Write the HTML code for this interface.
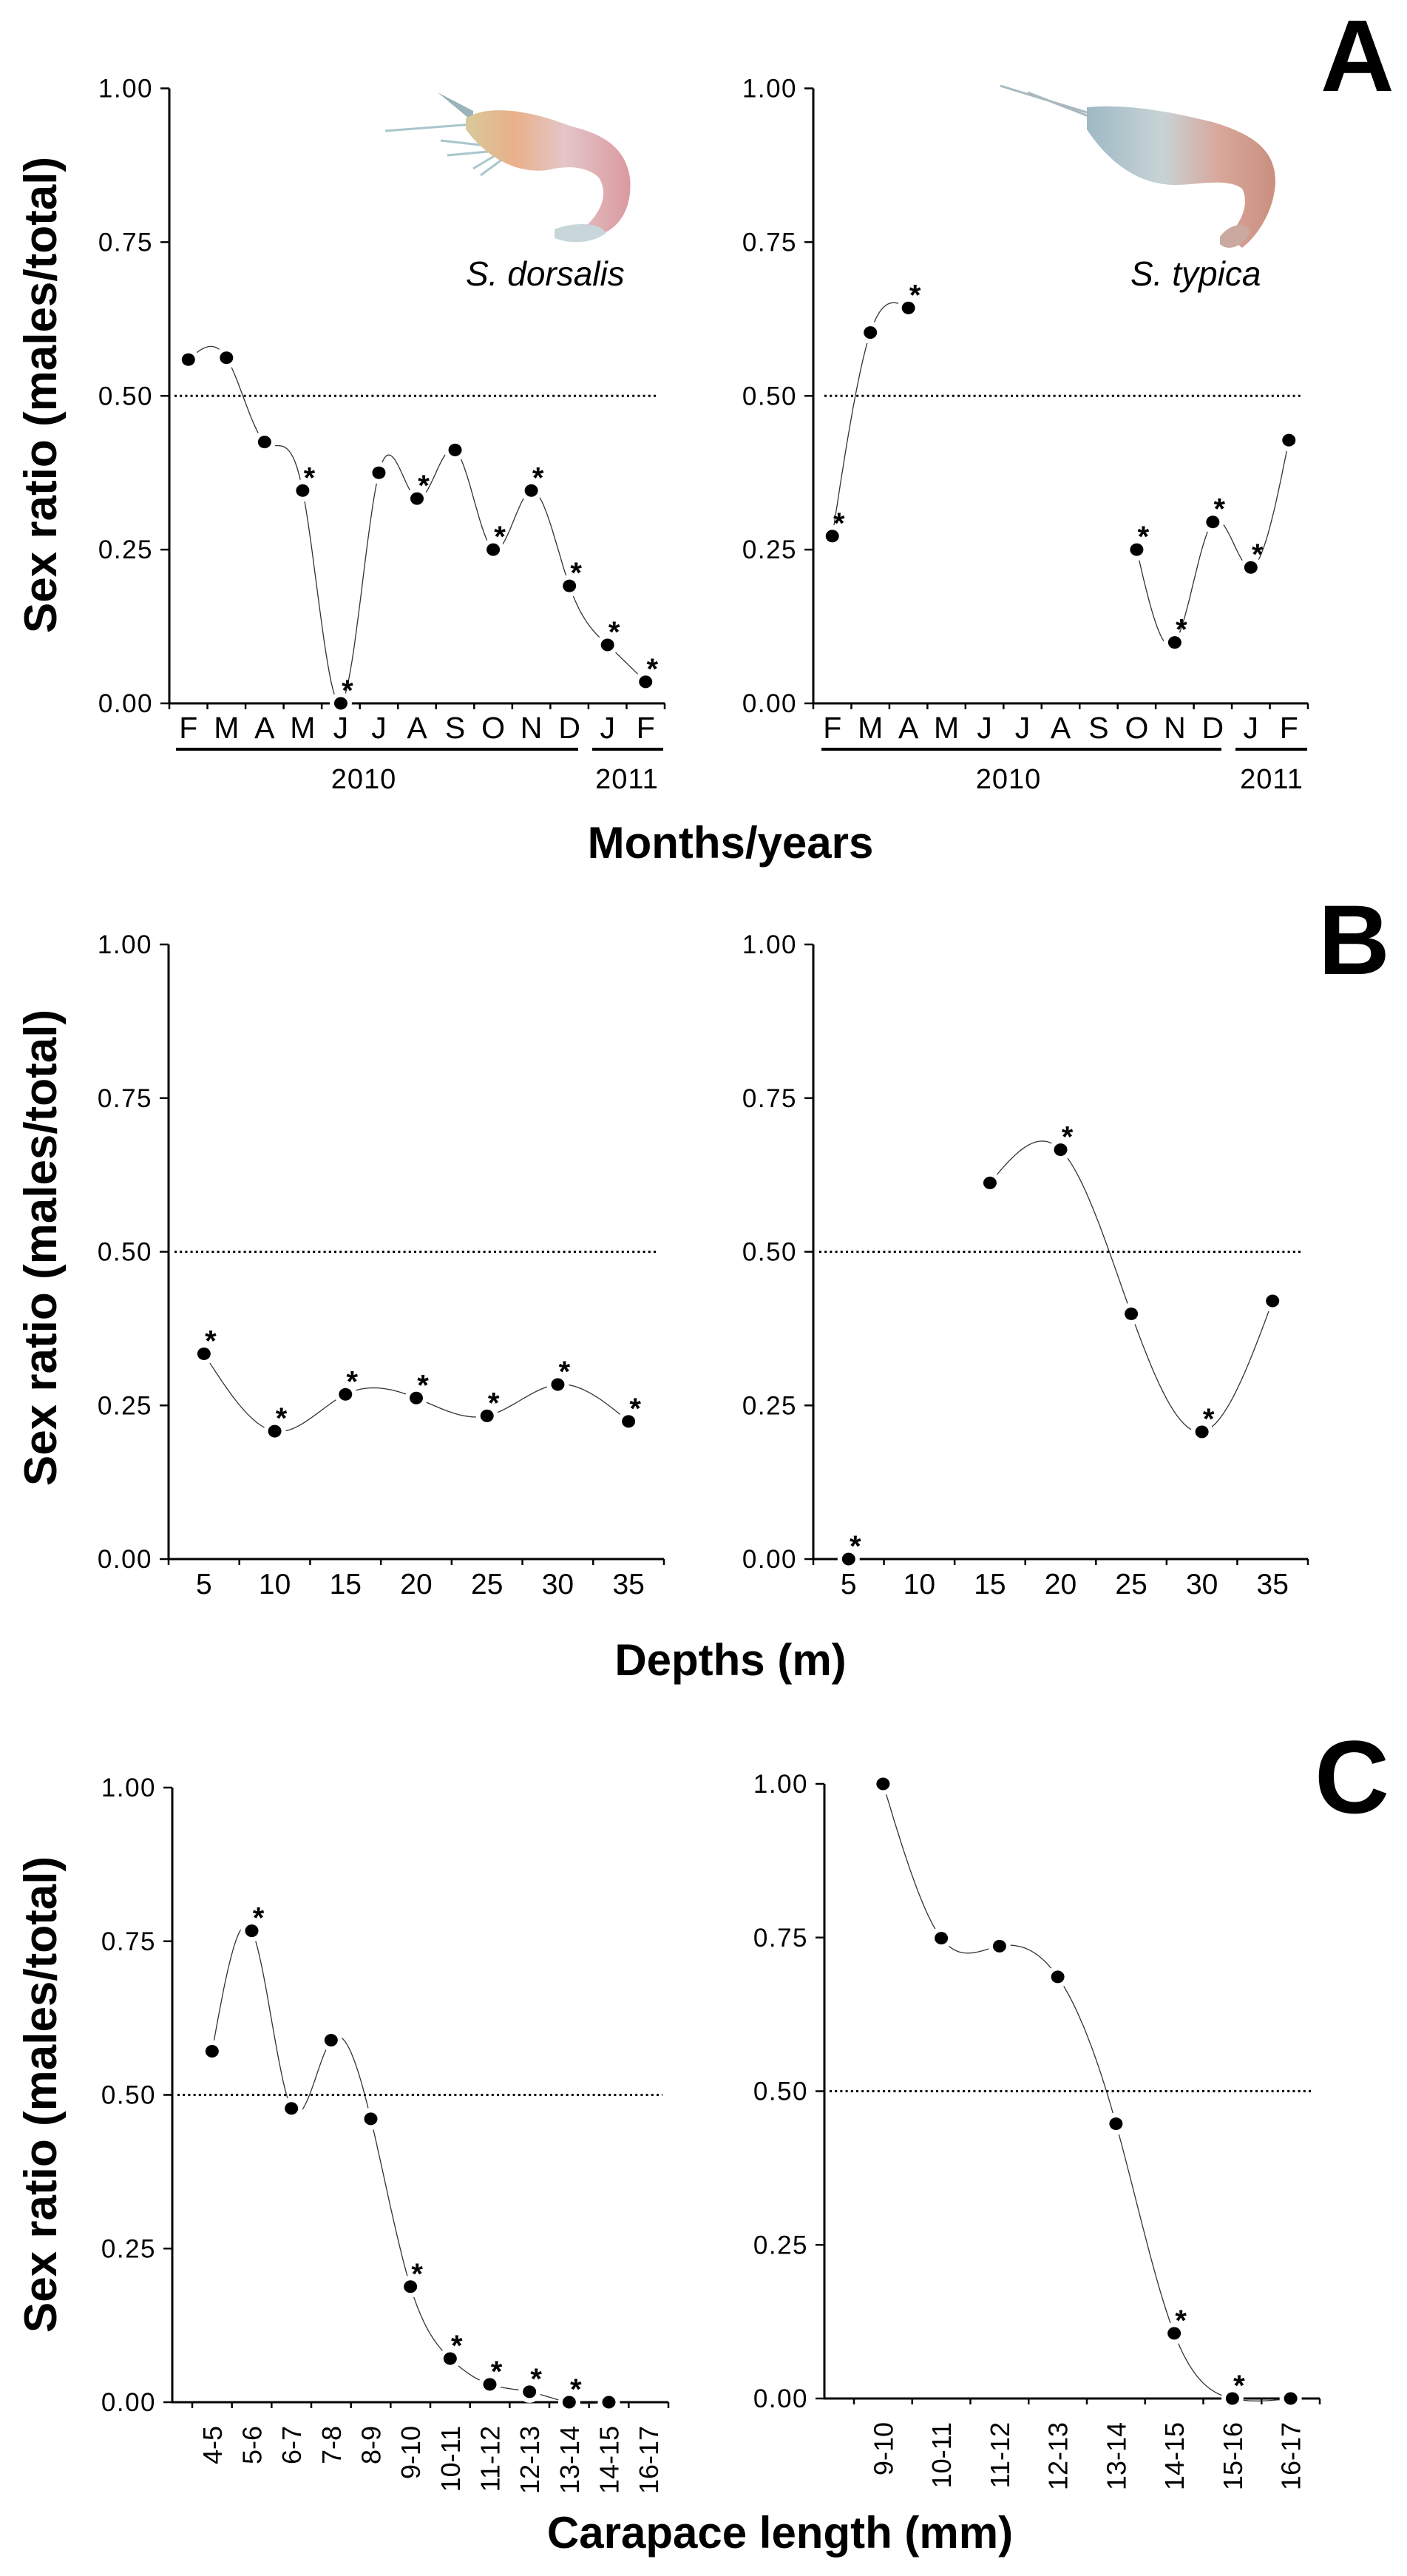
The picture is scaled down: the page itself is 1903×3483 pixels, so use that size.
<!DOCTYPE html>
<html><head><meta charset="utf-8">
<style>
html,body{margin:0;padding:0;background:#fff;}
svg{display:block;}
text{font-family:"Liberation Sans",Arial,sans-serif;fill:#000;}
</style></head>
<body>
<svg id="fig" width="1903" height="3483" viewBox="0 0 1903 3483" xmlns="http://www.w3.org/2000/svg">
<defs>
<linearGradient id="bodyA" x1="0" y1="0" x2="1" y2="0">
<stop offset="0" stop-color="#d8c99a"/><stop offset="0.3" stop-color="#e9b08a"/><stop offset="0.6" stop-color="#e4c6c8"/><stop offset="1" stop-color="#d99aa0"/></linearGradient>
<linearGradient id="bodyB" x1="0" y1="0" x2="1" y2="0">
<stop offset="0" stop-color="#9fb9c4"/><stop offset="0.4" stop-color="#c7d3d6"/><stop offset="0.7" stop-color="#d9a79b"/><stop offset="1" stop-color="#c98f80"/></linearGradient>
</defs>
<g id="shrimp-left">
<path d="M521,177 L640,168" stroke="#a9c6cc" stroke-width="3" fill="none"/>
<path d="M596,190 L650,196 M605,210 L660,205 M640,228 L670,210 M650,237 L680,215" stroke="#a9c6cc" stroke-width="3" fill="none"/>
<path d="M592,125 L640,150 L640,165 Z" fill="#9ab3bb"/>
<path d="M630,160 C660,140 720,150 770,170 C810,180 845,195 852,240 C856,285 835,310 810,318 L790,308 C810,290 825,265 810,240 C790,222 760,225 740,230 C700,235 660,215 630,175 Z" fill="url(#bodyA)"/>
<path d="M750,310 C775,300 810,300 820,315 C800,330 770,330 750,322 Z" fill="#c8d6da"/>
</g>
<g id="shrimp-right">
<path d="M1353,116 L1470,152 M1390,125 L1480,160" stroke="#a9b8bf" stroke-width="3" fill="none"/>
<path d="M1470,145 C1520,140 1580,150 1640,165 C1690,180 1725,200 1725,245 C1724,285 1700,320 1680,335 L1660,320 C1680,300 1690,275 1680,255 C1660,240 1620,250 1590,250 C1540,250 1500,220 1470,175 Z" fill="url(#bodyB)"/>
<path d="M1650,320 C1665,300 1690,300 1690,315 C1680,335 1660,340 1650,330 Z" fill="#c9a9a0"/>
</g>
<text x="630" y="386" font-size="46" font-style="italic">S. dorsalis</text>
<text x="1529" y="386" font-size="46" font-style="italic">S. typica</text>
<text x="1786" y="123" font-size="138" font-weight="bold">A</text>
<text x="1783" y="1317" font-size="134" font-weight="bold">B</text>
<text x="1778" y="2451" font-size="140" font-weight="bold">C</text>
<text x="988" y="1160" font-size="60" font-weight="bold" text-anchor="middle">Months/years</text>
<text x="988" y="2265" font-size="60" font-weight="bold" text-anchor="middle">Depths (m)</text>
<text x="1055" y="3445" font-size="60" font-weight="bold" text-anchor="middle">Carapace length (mm)</text>
<text transform="translate(76,534) rotate(-90)" font-size="62" font-weight="bold" text-anchor="middle">Sex ratio (males/total)</text>
<text transform="translate(76,1687) rotate(-90)" font-size="62" font-weight="bold" text-anchor="middle">Sex ratio (males/total)</text>
<text transform="translate(76,2832) rotate(-90)" font-size="62" font-weight="bold" text-anchor="middle">Sex ratio (males/total)</text>
<g>
<rect x="238" y="1011" width="544" height="4" fill="#000"/>
<rect x="801" y="1011" width="96" height="4" fill="#000"/>
<rect x="1111" y="1011" width="541" height="4" fill="#000"/>
<rect x="1671" y="1011" width="97" height="4" fill="#000"/>
<text x="492" y="1066" font-size="38" text-anchor="middle" letter-spacing="1">2010</text>
<text x="848" y="1066" font-size="38" text-anchor="middle" letter-spacing="1">2011</text>
<text x="1364" y="1066" font-size="38" text-anchor="middle" letter-spacing="1">2010</text>
<text x="1720" y="1066" font-size="38" text-anchor="middle" letter-spacing="1">2011</text>
</g>
</svg>
<script>
const monthCats = ["F","M","A","M","J","J","A","S","O","N","D","J","F"];
const dorsalisMonthVals = [0.559,0.562,0.425,0.346,0.0,0.375,0.333,0.412,0.250,0.346,0.191,0.095,0.035];
const dorsalisMonthStars = [0,0,0,1,1,0,1,0,1,1,1,1,1];
const typicaMonthVals = [0.272,0.603,0.643,null,null,null,null,null,0.250,0.099,0.295,0.221,0.428];
const typicaMonthStars = [1,0,1,0,0,0,0,0,1,1,1,1,0];
const depthCats = ["5","10","15","20","25","30","35"];
const dorsalisDepthVals = [0.334,0.208,0.268,0.262,0.233,0.284,0.224];
const dorsalisDepthStars = [1,1,1,1,1,1,1];
const typicaDepthVals = [0.0,null,0.612,0.666,0.399,0.207,0.420];
const typicaDepthStars = [1,0,0,1,0,1,0];
const dorsalisSizeCats = ["4-5","5-6","6-7","7-8","8-9","9-10","10-11","11-12","12-13","13-14","14-15","16-17"];
const dorsalisSizeVals = [0.571,0.767,0.478,0.589,0.461,0.188,0.071,0.029,0.017,0.0,0.0,null];
const dorsalisSizeStars = [0,1,0,0,0,1,1,1,1,1,0,0];
const typicaSizeCats = ["9-10","10-11","11-12","12-13","13-14","14-15","15-16","16-17"];
const typicaSizeVals = [1.0,0.749,0.736,0.686,0.447,0.106,0.0,0.0];
const typicaSizeStars = [0,0,0,0,0,1,1,0];
const yTicks = [0,0.25,0.5,0.75,1.0];
const yTickLabels = ["0.00","0.25","0.50","0.75","1.00"];

const NS = "http://www.w3.org/2000/svg";
const svg = document.getElementById('fig');
function mk(tag, attrs, parent){
  const e = document.createElementNS(NS, tag);
  for (const k in attrs) e.setAttribute(k, attrs[k]);
  (parent||svg).appendChild(e);
  return e;
}
function spline(pts){
  const n = pts.length;
  if (n < 2) return "";
  if (n === 2) return `M${pts[0][0]},${pts[0][1]} L${pts[1][0]},${pts[1][1]}`;
  const x = pts.map(p=>p[0]), y = pts.map(p=>p[1]);
  const h = [], al = [], l=[1], mu=[0], z=[0], c=new Array(n).fill(0), b=[], d=[];
  for (let i=0;i<n-1;i++) h[i]=x[i+1]-x[i];
  for (let i=1;i<n-1;i++) al[i]=3/h[i]*(y[i+1]-y[i])-3/h[i-1]*(y[i]-y[i-1]);
  for (let i=1;i<n-1;i++){ l[i]=2*(x[i+1]-x[i-1])-h[i-1]*mu[i-1]; mu[i]=h[i]/l[i]; z[i]=(al[i]-h[i-1]*z[i-1])/l[i]; }
  for (let j=n-2;j>=0;j--){ c[j]= (j===0?0:z[j]-mu[j]*c[j+1]); b[j]=(y[j+1]-y[j])/h[j]-h[j]*(c[j+1]+2*c[j])/3; d[j]=(c[j+1]-c[j])/(3*h[j]); }
  let s = `M${x[0]},${y[0]}`;
  for (let i=0;i<n-1;i++){
    for (let k=1;k<=20;k++){
      const t = h[i]*k/20;
      s += ` L${(x[i]+t).toFixed(1)},${(y[i]+b[i]*t+c[i]*t*t+d[i]*t*t*t).toFixed(1)}`;
    }
  }
  return s;
}
function panel(cfg){
  const g = mk('g', {});
  
  
  const n = cfg.cats.length;
  const step = (cfg.xEnd - cfg.xStart)/n;
  const xs = i => cfg.xStart + (i+0.5)*step;
  const ys = v => cfg.y0 - v*(cfg.y0 - cfg.y1);
  const ya = mk('line', {x1:cfg.axisX, y1:cfg.y1, x2:cfg.axisX, y2:cfg.y0, stroke:'#000','stroke-width':3}, g);
  
  
  const xa = mk('line', {x1:cfg.axisX-1.5, y1:cfg.y0, x2:cfg.xEnd, y2:cfg.y0, stroke:'#000','stroke-width':3}, g);
  
  
  yTicks.forEach((v,i)=>{
    mk('line', {x1:cfg.axisX-12, y1:ys(v), x2:cfg.axisX, y2:ys(v), stroke:'#000','stroke-width':2.5}, g);
    const t = mk('text', {x:cfg.axisX-22, y:ys(v)+12, 'font-size':35, 'text-anchor':'end','letter-spacing':1.5}, g);
    t.textContent = yTickLabels[i];
    
    
  });
  for (let k=0;k<=n;k++){
    const tx = cfg.xStart + k*step;
    mk('line', {x1:tx, y1:cfg.y0, x2:tx, y2:cfg.y0+8, stroke:'#000','stroke-width':2.5}, g);
  }
  cfg.cats.forEach((c,i)=>{
    let t;
    if (cfg.rotate){
      t = mk('text', {transform:`translate(${xs(i)+13},${cfg.y0+32}) rotate(-90)`, 'font-size':36, 'text-anchor':'end'}, g);
    } else {
      t = mk('text', {x:xs(i), y:cfg.labelY, 'font-size':cfg.labelSize, 'text-anchor':'middle'}, g);
    }
    t.textContent = c;
    
    
  });
  let seg = [], segs = [];
  cfg.vals.forEach((v,i)=>{ if (v===null){ if(seg.length) segs.push(seg); seg=[]; } else seg.push([xs(i), ys(v)]); });
  if (seg.length) segs.push(seg);
  segs.forEach(s=>{
    if (s.length<2) return;
    const p = mk('path', {d:spline(s), fill:'none', stroke:'#333', 'stroke-width':1.3}, g);
    
    
  });
  cfg.vals.forEach((v,i)=>{ if (v!==null) mk('circle', {cx:xs(i), cy:ys(v), r:15, fill:'#fff'}, g); });
  const dl = mk('line', {x1:cfg.dotX1, y1:ys(0.5), x2:cfg.dotX2, y2:ys(0.5), stroke:'#000','stroke-width':3,'stroke-dasharray':'3,4.2'}, g);
  
  
  cfg.vals.forEach((v,i)=>{
    if (v===null) return;
    const m = mk('ellipse', {cx:xs(i), cy:ys(v), rx:9, ry:8.5, fill:'#000'}, g);
    
    
    if (cfg.stars[i]){
      const st = mk('text', {x:xs(i)+9, y:ys(v)-4, 'font-size':40, 'font-weight':'bold', 'text-anchor':'middle'}, g);
      st.textContent = '*';
      
      
    }
  });
}
panel({name:'chart-a-dorsalis-months', cats:monthCats, vals:dorsalisMonthVals, stars:dorsalisMonthStars, axisX:229, xStart:229, xEnd:899, y0:951, y1:119.5, labelY:998, labelSize:41, dotX1:236, dotX2:888});
panel({name:'chart-a-typica-months', cats:monthCats, vals:typicaMonthVals, stars:typicaMonthStars, axisX:1100, xStart:1100, xEnd:1769, y0:951, y1:119.5, labelY:998, labelSize:41, dotX1:1115, dotX2:1762});
panel({name:'chart-b-dorsalis-depths', cats:depthCats, vals:dorsalisDepthVals, stars:dorsalisDepthStars, axisX:228, xStart:228, xEnd:898, y0:2108, y1:1277, labelY:2155, labelSize:39, dotX1:236, dotX2:888});
panel({name:'chart-b-typica-depths', cats:depthCats, vals:typicaDepthVals, stars:typicaDepthStars, axisX:1100, xStart:1100, xEnd:1769, y0:2108, y1:1277, labelY:2155, labelSize:39, dotX1:1108, dotX2:1760});
panel({name:'chart-c-dorsalis-carapace', cats:dorsalisSizeCats, vals:dorsalisSizeVals, stars:dorsalisSizeStars, axisX:233, xStart:260, xEnd:904, y0:3248, y1:2417, rotate:true, dotX1:240, dotX2:896});
panel({name:'chart-c-typica-carapace', cats:typicaSizeCats, vals:typicaSizeVals, stars:typicaSizeStars, axisX:1115, xStart:1155, xEnd:1785, y0:3243, y1:2412, rotate:true, dotX1:1122, dotX2:1776});
</script>
</body></html>
